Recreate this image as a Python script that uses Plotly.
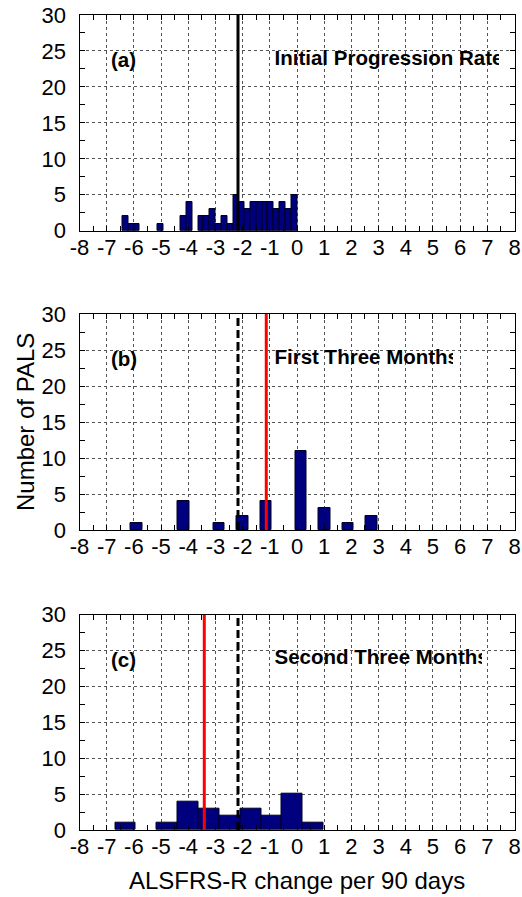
import plotly.graph_objects as go

# ---------------- data ----------------
# Panel (a): Initial progression rate (30 bins between -6.42 and 0)
a_centers = [-6.313, -6.099, -5.885, -5.029, -4.173, -3.959, -3.531, -3.317,
             -3.103, -2.889, -2.675, -2.461, -2.247, -2.033, -1.819, -1.605,
             -1.391, -1.177, -0.963, -0.749, -0.535, -0.321, -0.107]
a_counts = [2, 1, 1, 1, 2, 4, 2, 2, 3, 1, 2, 1, 5, 4, 3, 4, 4, 4, 4, 3, 4, 3, 5]
a_width = 0.214

# Panel (b): First three months
b_centers = [-5.894, -4.167, -2.872, -2.009, -1.145, 0.150, 1.013, 1.877, 2.740]
b_counts = [1, 4, 1, 2, 4, 11, 3, 1, 2]
b_width = 0.432

# Panel (c): Second three months
c_centers = [-6.307, -4.773, -4.006, -3.239, -2.472, -1.705, -0.938, -0.171, 0.596]
c_counts = [1, 1, 4, 3, 2, 3, 2, 5, 1]
c_width = 0.767

initial_mean = -2.17
b_mean = -1.13
c_mean = -3.41

x_tickvals = [-8, -7, -6, -5, -4, -3, -2, -1, 0, 1, 2, 3, 4, 5, 6, 7, 8]
x_ticktext = ["-8", "-7", "-6", "-5", "-4", "-3", "-2", "-1", "0", "1", "2", "3", "4", "5", "6", "7", "8"]
y_tickvals = [0, 5, 10, 15, 20, 25, 30]

panel_letters = ["(a)", "(b)", "(c)"]
panel_titles = ["Initial Progression Rate", "First Three Months", "Second Three Months"]
x_title = "ALSFRS-R change per 90 days"
y_title = "Number of PALS"

# ---------------- layout geometry ----------------
W, H = 522, 897
FONT = "Liberation Sans, Arial, Helvetica, sans-serif"
x_left, x_right = 79.5, 514.5
panels_px = [(15.0, 230.7), (314.0, 530.0), (614.7, 830.0)]  # (top, bottom) in px
clip_px = [499, 453, 482]
text_start_px = 274.5

def ydom(top, bot):
    return [1 - bot / H, 1 - top / H]

fig = go.Figure()

bar_sets = [(a_centers, a_counts, a_width), (b_centers, b_counts, b_width), (c_centers, c_counts, c_width)]
for i, (cx, cy, w) in enumerate(bar_sets):
    n = "" if i == 0 else str(i + 1)
    fig.add_trace(go.Bar(x=cx, y=cy, width=w, marker=dict(color="#00007f", line=dict(color="#000020", width=1)),
                         xaxis="x" + n, yaxis="y" + n, showlegend=False, hoverinfo="skip"))

axis_common_x = dict(range=[-8, 8], tickvals=x_tickvals, ticktext=x_ticktext, ticks="inside", ticklen=5,
                     tickcolor="black", showline=True, linecolor="black", linewidth=1, mirror="allticks",
                     showgrid=True, gridcolor="#555555", griddash="dot", gridwidth=1, zeroline=False,
                     tickfont=dict(family=FONT, size=22, color="black"), ticklabelstandoff=-3,
                     minor=dict(dtick=0.5, tick0=0, ticks="inside", ticklen=5, tickcolor="black", showgrid=False),
                     fixedrange=True, automargin=False)
axis_common_y = dict(range=[0, 30], tickvals=y_tickvals, ticks="inside", ticklen=5,
                     tickcolor="black", showline=True, linecolor="black", linewidth=1, mirror="allticks",
                     showgrid=True, gridcolor="#555555", griddash="dot", gridwidth=1, zeroline=False,
                     tickfont=dict(family=FONT, size=22, color="black"), ticklabelstandoff=8,
                     minor=dict(dtick=2.5, tick0=0, ticks="inside", ticklen=5, tickcolor="black", showgrid=False),
                     fixedrange=True, automargin=False)

layout = dict(width=W, height=H, margin=dict(l=0, r=0, t=0, b=0, autoexpand=False),
              plot_bgcolor="rgba(0,0,0,0)", paper_bgcolor="white", showlegend=False, bargap=0)

for i, (top, bot) in enumerate(panels_px):
    n = "" if i == 0 else str(i + 1)
    layout["xaxis" + n] = dict(axis_common_x, domain=[x_left / W, x_right / W], anchor="y" + n)
    layout["yaxis" + n] = dict(axis_common_y, domain=ydom(top, bot), anchor="x" + n)

# text subplots for clipped titles
for i, (top, bot) in enumerate(panels_px):
    k = str(i + 4)
    layout["xaxis" + k] = dict(domain=[text_start_px / W, clip_px[i] / W], range=[0, 1], visible=False,
                               anchor="y" + k, fixedrange=True, automargin=False)
    layout["yaxis" + k] = dict(domain=ydom(top, bot), range=[0, 30], visible=False, anchor="x" + k,
                               fixedrange=True, automargin=False)
    fig.add_trace(go.Scatter(x=[0], y=[23.8], mode="text", text=["<b>" + panel_titles[i] + "</b>"],
                             textposition="middle right", cliponaxis=True,
                             textfont=dict(family=FONT, size=20.5, color="black"),
                             xaxis="x" + k, yaxis="y" + k, showlegend=False, hoverinfo="skip"))

fig.update_layout(**layout)

shapes = []
annotations = []
for i in range(3):
    n = "" if i == 0 else str(i + 1)
    annotations.append(dict(x=-6.93, y=23.8, xref="x" + n, yref="y" + n, text="<b>" + panel_letters[i] + "</b>",
                            showarrow=False, xanchor="left", yanchor="middle",
                            font=dict(family=FONT, size=20.5, color="black")))

# vertical mean lines
shapes.append(dict(type="line", xref="x", yref="y", x0=initial_mean, x1=initial_mean, y0=0, y1=30,
                   line=dict(color="black", width=3), layer="above"))
shapes.append(dict(type="line", xref="x2", yref="y2", x0=initial_mean, x1=initial_mean, y0=0, y1=30,
                   line=dict(color="black", width=3, dash="8px,4px"), layer="above"))
shapes.append(dict(type="line", xref="x2", yref="y2", x0=b_mean, x1=b_mean, y0=0, y1=30,
                   line=dict(color="#ff0000", width=3), layer="above"))
shapes.append(dict(type="line", xref="x3", yref="y3", x0=c_mean, x1=c_mean, y0=0, y1=30,
                   line=dict(color="#ff0000", width=3), layer="above"))
shapes.append(dict(type="line", xref="x3", yref="y3", x0=initial_mean, x1=initial_mean, y0=0, y1=30,
                   line=dict(color="black", width=3, dash="8px,4px"), layer="above"))

annotations.append(dict(x=(x_left + x_right) / 2 / W, y=1 - 880 / H, xref="paper", yref="paper", text=x_title,
                        showarrow=False, xanchor="center", yanchor="middle",
                        font=dict(family=FONT, size=24, color="black")))
annotations.append(dict(x=25 / W, y=1 - 422 / H, xref="paper", yref="paper", text=y_title, textangle=-90,
                        showarrow=False, xanchor="center", yanchor="middle",
                        font=dict(family=FONT, size=24, color="black")))

fig.update_layout(shapes=shapes, annotations=annotations)
fig.write_html("out.html")
